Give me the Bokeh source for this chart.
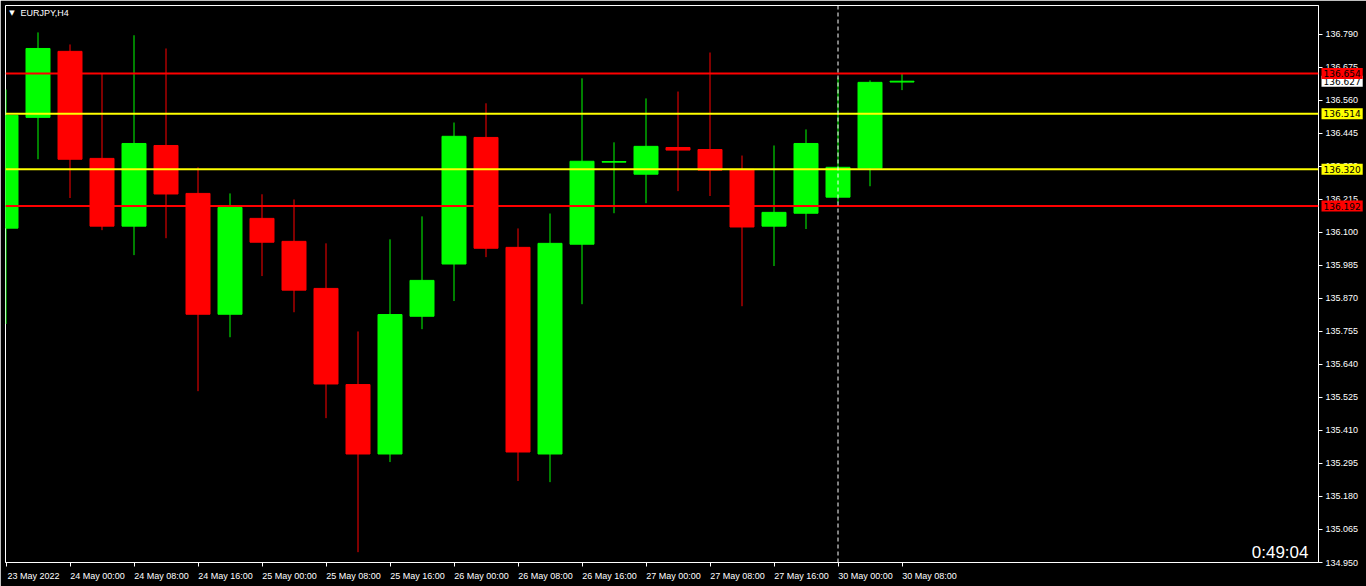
from bokeh.plotting import figure
from bokeh.models import (Range1d, LinearAxis, FixedTicker, Span, Label, Text,
                          ColumnDataSource, CustomJSTickFormatter, PrintfTickFormatter)
from bokeh.core.properties import value
from bokeh.embed import file_html
from bokeh.resources import INLINE

# ---------------- data ----------------
symbol = "EURJPY,H4"
timer_text = "0:49:04"

times = ["23 May 16:00", "23 May 20:00",
         "24 May 00:00", "24 May 04:00", "24 May 08:00", "24 May 12:00", "24 May 16:00", "24 May 20:00",
         "25 May 00:00", "25 May 04:00", "25 May 08:00", "25 May 12:00", "25 May 16:00", "25 May 20:00",
         "26 May 00:00", "26 May 04:00", "26 May 08:00", "26 May 12:00", "26 May 16:00", "26 May 20:00",
         "27 May 00:00", "27 May 04:00", "27 May 08:00", "27 May 12:00", "27 May 16:00", "27 May 20:00",
         "30 May 00:00", "30 May 04:00", "30 May 08:00"]

opens  = [136.115, 136.501, 136.731, 136.358, 136.122, 136.403, 136.236, 135.815,
          136.149, 136.069, 135.905, 135.570, 135.328, 135.808,
          135.990, 136.431, 136.048, 135.328, 136.059, 136.345,
          136.303, 136.396, 136.389, 136.320, 136.122, 136.167,
          136.223, 136.324, 136.624]
highs  = [136.598, 136.797, 136.755, 136.652, 136.787, 136.741, 136.327, 136.236,
          136.233, 136.215, 136.062, 135.755, 136.076, 136.156,
          136.483, 136.550, 136.114, 136.166, 136.637, 136.414,
          136.567, 136.591, 136.727, 136.368, 136.403, 136.459,
          136.640, 136.630, 136.653]
lows   = [135.781, 136.355, 136.220, 136.108, 136.021, 136.080, 135.547, 135.735,
          135.948, 135.822, 135.453, 134.986, 135.300, 135.763,
          135.861, 136.014, 135.234, 135.230, 135.850, 136.167,
          136.202, 136.244, 136.227, 135.843, 135.983, 136.112,
          136.205, 136.261, 136.596]
closes = [136.508, 136.741, 136.355, 136.122, 136.410, 136.234, 135.815, 136.187,
          136.066, 135.899, 135.572, 135.328, 135.814, 135.933,
          136.435, 136.045, 135.335, 136.062, 136.348, 136.347,
          136.400, 136.387, 136.317, 136.119, 136.170, 136.410,
          136.327, 136.623, 136.627]

x_tick_index = [0, 2, 4, 6, 8, 10, 12, 14, 16, 18, 20, 22, 24, 26, 28]
x_tick_labels = ["23 May 2022", "24 May 00:00", "24 May 08:00", "24 May 16:00",
                 "25 May 00:00", "25 May 08:00", "25 May 16:00", "26 May 00:00",
                 "26 May 08:00", "26 May 16:00", "27 May 00:00", "27 May 08:00",
                 "27 May 16:00", "30 May 00:00", "30 May 08:00"]

y_ticks = [134.950, 135.065, 135.180, 135.295, 135.410, 135.525, 135.640, 135.755,
           135.870, 135.985, 136.100, 136.215, 136.330, 136.445, 136.560, 136.675, 136.790]

red_levels = [136.654, 136.192]
yellow_levels = [136.514, 136.320]
bid_price = 136.627
session_start = "30 May 00:00"

# ---------------- derived ----------------
BULL = "#00ff00"
BEAR = "#ff0000"
RED = "#ff0000"
YELLOW = "#ffff00"
idx = list(range(len(times)))
colors = [BULL if c >= o else BEAR for o, c in zip(opens, closes)]
tops = [max(o, c) for o, c in zip(opens, closes)]
bottoms = [min(o, c) for o, c in zip(opens, closes)]
src = ColumnDataSource(dict(x=idx, o=opens, h=highs, l=lows, c=closes,
                            top=tops, bottom=bottoms, color=colors))

W, H = 1366, 586
BORDER_L, BORDER_T, BORDER_R, BORDER_B = 5, 5, 48, 24
FRAME_W = W - BORDER_L - BORDER_R
FRAME_H = H - BORDER_T - BORDER_B
PX_PER_BAR = 32.0
PX_PER_UNIT = 287.0
x0 = -0.5 / PX_PER_BAR
x1 = x0 + FRAME_W / PX_PER_BAR
y0 = y_ticks[0]
y1 = y0 + FRAME_H / PX_PER_UNIT

FONT = "Liberation Sans"

p = figure(width=W, height=H, output_backend="svg", toolbar_location=None,
           x_axis_location=None, y_axis_location="right",
           x_range=Range1d(x0, x1), y_range=Range1d(y0, y1),
           min_border_left=BORDER_L, min_border_top=BORDER_T,
           min_border_right=BORDER_R, min_border_bottom=BORDER_B)
p.background_fill_color = "black"
p.border_fill_color = "black"
p.outline_line_color = "white"
p.outline_line_width = 1
p.xgrid.visible = False
p.ygrid.visible = False

# right price axis
ya = p.yaxis[0]
ya.ticker = FixedTicker(ticks=y_ticks)
ya.formatter = PrintfTickFormatter(format="%.3f")
ya.axis_line_color = "white"
ya.major_tick_line_color = "white"
ya.major_tick_out = 4
ya.major_tick_in = 0
ya.minor_tick_line_color = None
ya.major_label_standoff = 3
ya.major_label_text_color = "white"
ya.major_label_text_font = FONT
ya.major_label_text_font_size = "9px"

# bottom time axis: tick marks only
xa = LinearAxis(ticker=FixedTicker(ticks=x_tick_index))
xa.axis_line_color = "white"
xa.major_tick_line_color = "white"
xa.major_tick_out = 4
xa.major_tick_in = 0
xa.minor_tick_line_color = None
xa.major_label_text_color = None
xa.major_label_text_font_size = "1px"
xa.major_label_standoff = 0
p.add_layout(xa, "below")

# bottom time axis: labels that start at their tick (MT4 style)
LBL_OFF = 0.86
xb = LinearAxis(ticker=FixedTicker(ticks=[i + LBL_OFF for i in x_tick_index]),
                formatter=CustomJSTickFormatter(
                    args=dict(lbls=x_tick_labels, pos=x_tick_index, off=LBL_OFF),
                    code="""
const t = Math.round(tick - off);
const k = pos.indexOf(t);
return k >= 0 ? lbls[k] : '';
"""))
xb.axis_line_color = None
xb.major_tick_line_color = None
xb.minor_tick_line_color = None
xb.major_tick_out = 0
xb.major_tick_in = 0
xb.major_label_standoff = 4
xb.major_label_text_color = "white"
xb.major_label_text_font = FONT
xb.major_label_text_font_size = "9px"
p.add_layout(xb, "below")

# level lines
for lv in red_levels:
    p.add_layout(Span(location=lv, dimension="width", line_color=RED, line_width=2))
for lv in yellow_levels:
    p.add_layout(Span(location=lv, dimension="width", line_color=YELLOW, line_width=2))

# period separator
p.add_layout(Span(location=times.index(session_start), dimension="height",
                  line_color="white", line_width=1, line_dash="4 3"))

# candles
p.segment(x0="x", y0="l", x1="x", y1="h", color="color", line_width=1, source=src)
p.vbar(x="x", width=0.75, top="top", bottom="bottom", fill_color="color",
       line_color="color", line_width=1, source=src)

# right-side price tags (drawn over the price scale)
tag_prices = [bid_price] + yellow_levels + red_levels
tag_colors = ["#ffffff"] + [YELLOW] * len(yellow_levels) + [RED] * len(red_levels)
tag_src = ColumnDataSource(dict(
    x=[x1 + 3 / PX_PER_BAR] * len(tag_prices),
    y=tag_prices,
    txt=[f"{v:.3f}" for v in tag_prices],
    bg=tag_colors))
tprops = Text.properties()
tkw = {}
if "background_fill_color" in tprops:
    tkw["background_fill_color"] = "bg"
if "padding" in tprops:
    tkw["padding"] = 2
p.text(x="x", y="y", text="txt", source=tag_src, level="overlay",
       text_font=value("DejaVu Sans"), text_font_size="9px", text_color="black",
       text_align="left", text_baseline="middle", **tkw)

# symbol caption
p.add_layout(Label(x=x0 + 6.5 / PX_PER_BAR, y=y1 - 7 / PX_PER_UNIT, text="\u25bc",
                   text_font="DejaVu Sans", text_font_size="7px", text_color="white",
                   text_align="center", text_baseline="middle"))
p.add_layout(Label(x=x0 + 15 / PX_PER_BAR, y=y1 - 7 / PX_PER_UNIT, text=symbol,
                   text_font=FONT, text_font_size="9px", text_color="white",
                   text_align="left", text_baseline="middle"))

# bar timer
p.add_layout(Label(x=x1 - 10 / PX_PER_BAR, y=y0 + 10 / PX_PER_UNIT, text=timer_text,
                   text_font=FONT, text_font_size="17px", text_color="white",
                   text_align="right", text_baseline="alphabetic"))

open("out.html", "w").write(file_html(p, INLINE))
